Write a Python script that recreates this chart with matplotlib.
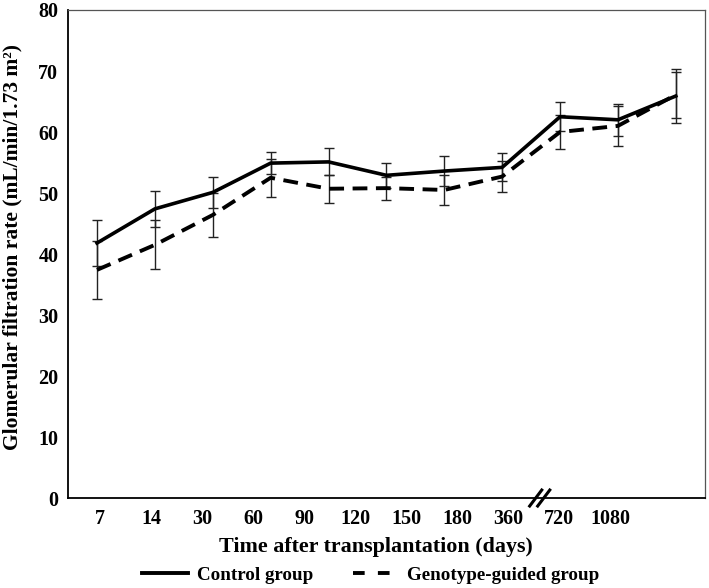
import matplotlib.pyplot as plt
from matplotlib.lines import Line2D
import numpy as np

days = ['7', '14', '30', '60', '90', '120', '150', '180', '360', '720', '1080']

control = [41.8, 47.4, 50.1, 54.9, 55.1, 52.9, 53.6, 54.2, 62.5, 62.0, 65.9]
control_err = [3.7, 3.0, 2.5, 1.8, 2.2, 2.0, 2.5, 2.3, 2.4, 2.6, 4.5]

guided = [37.4, 41.5, 46.4, 52.5, 50.7, 50.8, 50.5, 52.7, 60.0, 61.0, 66.1]
guided_err = [4.8, 4.0, 3.6, 3.1, 2.3, 1.9, 2.4, 2.6, 2.8, 3.3, 3.8]

plt.rcParams['font.family'] = ['Liberation Serif', 'DejaVu Serif']
plt.rcParams['font.weight'] = 'bold'

fig = plt.figure(figsize=(7.09, 5.88), dpi=100)
ax = fig.add_axes([0.096, 0.153, 0.898, 0.830])

x = np.arange(len(control))
dash = (3.8, 2.2)

ax.errorbar(x, control, yerr=control_err, color='black', lw=2.6,
            ecolor='#222222', elinewidth=1.0, capsize=3.5, capthick=1.0)
ax.errorbar(x, guided, yerr=guided_err, color='black', lw=2.8, dashes=dash,
            ecolor='#222222', elinewidth=1.0, capsize=3.5, capthick=1.0)

ax.set_xlim(-0.5, len(control) - 0.5)
ax.set_ylim(0, 80)
ax.set_yticks(np.arange(0, 81, 10))

# the day labels in the original do not line up with the points
ax.set_xticks(0.05 + np.arange(len(days)) * 0.882)
ax.set_xticklabels(days)
ax.tick_params(axis='both', length=0, labelsize=14.5, pad=8)
ax.tick_params(axis='y', pad=7)

for s in ['left', 'bottom']:
    ax.spines[s].set_color('black')
    ax.spines[s].set_linewidth(1.3)
for s in ['top', 'right']:
    ax.spines[s].set_color('#555555')
    ax.spines[s].set_linewidth(0.9)

ax.set_ylabel('Glomerular filtration rate (mL/min/1.73 m²)',
              fontsize=15.5, fontweight='bold')
ax.yaxis.set_label_coords(-0.072, 0.514)
ax.set_xlabel('Time after transplantation (days)', fontsize=15.8,
              fontweight='bold')
ax.xaxis.set_label_coords(0.4835, -0.080)

# axis break mark
for dx in (0.0, 0.0126):
    ax.plot([0.725 + dx, 0.744 + dx], [-0.0164, 0.0164], transform=ax.transAxes,
            color='black', lw=2.2, clip_on=False)

handles = [Line2D([], [], color='black', lw=2.8),
           Line2D([], [], color='black', lw=2.8, dashes=(3.0, 3.4))]
fig.legend(handles, ['Control group', 'Genotype-guided group'],
           loc='center', bbox_to_anchor=(0.523, 0.022), ncol=2,
           frameon=False, handlelength=2.4, handletextpad=0.45,
           columnspacing=2.1, prop={'weight': 'bold', 'size': 13.7})

fig.savefig('out.png', dpi=100)
